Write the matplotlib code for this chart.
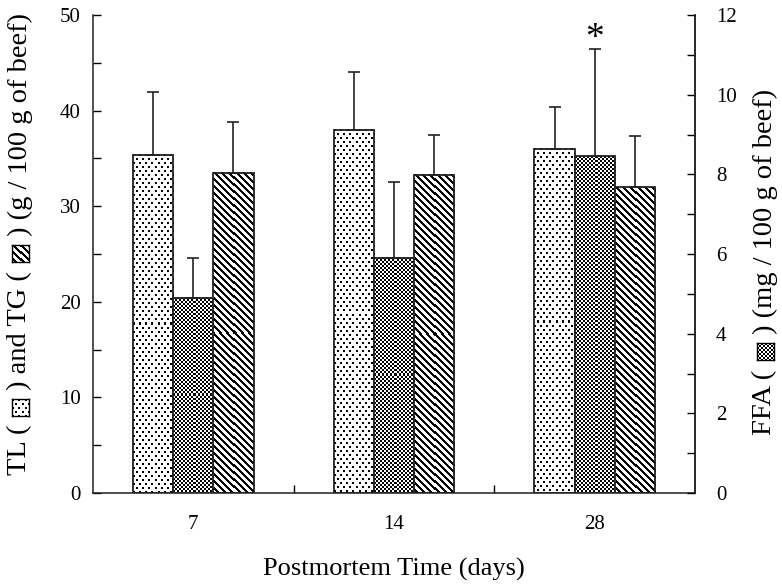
import matplotlib
matplotlib.use("Agg")
import matplotlib.pyplot as plt
import numpy as np

# Postmortem storage days
days = ["7", "14", "28"]

# Total lipid (g / 100 g of beef)
tl_mean = [35.4, 38.0, 36.0]
tl_err = [6.5, 6.0, 4.4]

# Triglyceride (g / 100 g of beef)
tg_mean = [33.5, 33.3, 32.0]
tg_err = [5.3, 4.2, 5.3]

# Free fatty acid (mg / 100 g of beef)
ffa_mean = [4.9, 5.9, 8.45]
ffa_err = [1.0, 1.9, 2.7]
ffa_mark = ["", "", "*"]

plt.rcParams["font.family"] = ["Liberation Serif", "DejaVu Serif"]

W, H = 782, 586
fig = plt.figure(figsize=(W / 100, H / 100), dpi=100)
ax = fig.add_axes([93 / W, 1 - 493 / H, (695 - 93) / W, (493 - 15) / H])
ax2 = ax.twinx()


def pattern(kind, nrows, ncols):
    """Black/white fill texture, one array cell per screen pixel."""
    r, c = np.mgrid[0:nrows, 0:ncols]
    if kind == "dots":
        shift = 3 * ((r // 4) % 2)
        on = (r % 4 < 2) & (((c + shift) % 6) < 2)
    elif kind == "checker":
        on = ((r // 2 + c // 2) % 2) == 0
    else:  # descending diagonal stripes
        on = ((c - r) % 7) < 3
    return np.where(on, 0.0, 1.0)


ax.set_xlim(-0.5, 2.5)
ax.set_ylim(0, 50)
ax2.set_ylim(0, 12)

x = np.arange(len(days))
w = 0.2
bar_kw = dict(color="none", edgecolor="#222222", linewidth=1.3, zorder=2)
err_kw = dict(fmt="none", ecolor="#222222", elinewidth=1.2, capsize=4, capthick=1.2, zorder=3)

groups = [
    (ax, x - w, tl_mean, tl_err, "dots"),
    (ax2, x, ffa_mean, ffa_err, "checker"),
    (ax, x + w, tg_mean, tg_err, "stripes"),
]

zeros = np.zeros(len(days))
for a, pos, mean, err, kind in groups:
    bars = a.bar(pos, mean, w, **bar_kw)
    for b in bars:
        bb = b.get_window_extent()
        img = pattern(kind, max(int(round(bb.height)), 1), max(int(round(bb.width)), 1))
        a.imshow(img, extent=(b.get_x(), b.get_x() + b.get_width(), 0, b.get_height()),
                 origin="upper", aspect="auto", interpolation="nearest",
                 cmap="gray", vmin=0, vmax=1, zorder=1.5)
    a.errorbar(pos, mean, yerr=[zeros, err], **err_kw)

for xi, m, e, mark in zip(x, ffa_mean, ffa_err, ffa_mark):
    if mark:
        ax2.annotate(mark, (xi, m + e), xytext=(0, 0.5), textcoords="offset points",
                     ha="center", va="baseline", fontsize=27)

ax.set_xlim(-0.5, 2.5)
ax.set_ylim(0, 50)
ax2.set_ylim(0, 12)

ax.set_xticks(x)
ax.set_xticklabels(days)
ax.set_xticks([0.5, 1.5], minor=True)
ax.tick_params(axis="x", which="major", length=0, labelsize=15, pad=16)
ax.tick_params(axis="x", which="minor", direction="in", length=6, width=1)

ax.set_yticks(range(0, 51, 10))
ax.set_yticks(range(5, 50, 10), minor=True)
ax.tick_params(axis="y", which="both", direction="in", length=6, width=1,
               labelsize=15, pad=9, right=False)

ax2.set_yticks(range(0, 13, 2))
ax2.set_yticks(range(1, 12, 2), minor=True)
ax2.tick_params(axis="y", which="both", direction="in", length=6, width=1,
                labelsize=15, pad=15)

for a in (ax, ax2):
    a.spines["top"].set_visible(False)
    for s in a.spines.values():
        s.set_linewidth(1.1)
        s.set_color("#222222")
ax2.spines["left"].set_visible(False)
ax2.spines["bottom"].set_visible(False)

fig.text(394 / W, 1 - 569 / H, "Postmortem Time (days)", ha="center", va="center", fontsize=19)


def swatch(px, py, size, kind):
    """Small framed texture sample at pixel position (px, py) from the top-left."""
    sa = fig.add_axes([px / W, 1 - (py + size) / H, size / W, size / H])
    sa.imshow(pattern(kind, size, size), cmap="gray", vmin=0, vmax=1,
              interpolation="nearest", aspect="auto")
    sa.set_xticks([])
    sa.set_yticks([])
    for s in sa.spines.values():
        s.set_linewidth(1.0)


def vertical_label(cx, cy, parts, fontsize=20.5, box=17, gap=2):
    """Rotated label made of text pieces and texture swatches, centred on pixel (cx, cy)."""
    renderer = fig.canvas.get_renderer()
    sizes = []
    for kind, val in parts:
        if kind == "text":
            t = fig.text(0, 0, val, fontsize=fontsize, rotation=90)
            sizes.append(t.get_window_extent(renderer).height)
            t.remove()
        else:
            sizes.append(box + 2 * gap)
    y = (H - cy) - sum(sizes) / 2  # bottom, in pixels from figure bottom
    for (kind, val), s in zip(parts, sizes):
        if kind == "text":
            fig.text(cx / W, y / H, val, fontsize=fontsize, rotation=90,
                     ha="center", va="bottom")
        else:
            swatch(cx - box / 2, H - (y + gap + box), box, val)
        y += s


vertical_label(20, 244, [("text", "TL ( "), ("box", "dots"), ("text", " ) and TG ( "),
                         ("box", "stripes"), ("text", " ) (g / 100 g of beef)")])
vertical_label(765, 262, [("text", "FFA ( "), ("box", "checker"),
                          ("text", " ) (mg / 100 g of beef)")])

fig.savefig("out.png", dpi=100)
